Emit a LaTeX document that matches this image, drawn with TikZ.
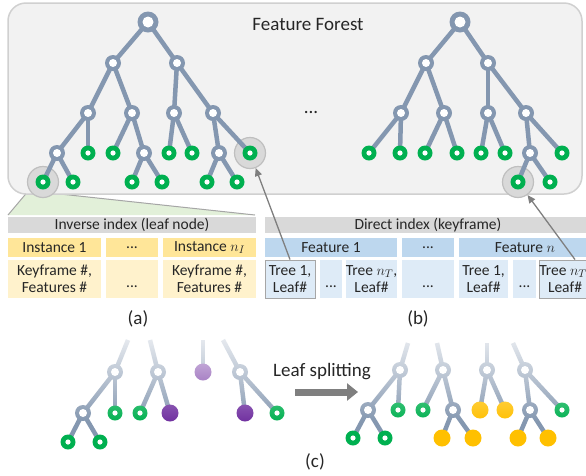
\documentclass[tikz,border=0pt]{standalone}
\usepackage{fontspec}
\setmainfont{Carlito}
\usetikzlibrary{arrows.meta,fadings}
\definecolor{tc}{HTML}{8497B0}
\definecolor{lgreen}{HTML}{00B050}
\definecolor{lyellow}{HTML}{FFC000}
\definecolor{lpurple}{HTML}{7030A0}
\definecolor{boxfill}{HTML}{F2F2F2}
\definecolor{boxdraw}{HTML}{D0D0D0}
\definecolor{hlfill}{HTML}{D9D9D9}
\definecolor{hldraw}{HTML}{BFBFBF}
\definecolor{trifill}{HTML}{E2F0D9}
\definecolor{trisides}{HTML}{A6A6A6}
\definecolor{hdrgray}{HTML}{D9D9D9}
\definecolor{ydark}{HTML}{FFE699}
\definecolor{ylight}{HTML}{FFF2CC}
\definecolor{bdark}{HTML}{BDD7EE}
\definecolor{blight}{HTML}{DEEBF7}
\definecolor{txt}{HTML}{262626}
\definecolor{arrgray}{HTML}{7F7F7F}
\pgfdeclarelayer{back}
\pgfdeclarelayer{edges}
\pgfsetlayers{back,edges,main}
\tikzfading[name=fadedown, top color=transparent!0, bottom color=transparent!100]
\newcommand\tblfont{\fontsize{15.5}{17}\selectfont}
\newcommand\bigfont{\fontsize{19}{21}\selectfont}
\tikzset{
 inode/.style={circle, fill=tc, minimum size=16pt, inner sep=0pt,
   path picture={\fill[white] (path picture bounding box.center) circle (4pt);}},
 rootnode/.style={circle, fill=tc, minimum size=21pt, inner sep=0pt,
   path picture={\fill[white] (path picture bounding box.center) circle (5.5pt);}},
 gleaf/.style={circle, fill=lgreen, minimum size=15pt, inner sep=0pt,
   path picture={\fill[white] (path picture bounding box.center) circle (2.6pt);}},
 yleaf/.style={circle, fill=lyellow, minimum size=17pt, inner sep=0pt},
 pleaf/.style={circle, fill=lpurple, minimum size=17pt, inner sep=0pt},
 tedge/.style={draw=tc, line width=4.5pt},
 hlc/.style={circle, fill=hlfill, draw=hldraw, line width=1.2pt, minimum size=31pt, inner sep=0pt},
 cell/.style={rectangle, inner sep=0pt, align=center, text=txt, font=\tblfont},
 hdr/.style={cell, fill=hdrgray, minimum height=16pt},
 ycell/.style={cell, fill=ydark, minimum height=19pt},
 ylcell/.style={cell, fill=ylight, minimum height=38pt},
 bcell/.style={cell, fill=bdark, minimum height=19pt},
 blcell/.style={cell, fill=blight, minimum height=38pt},
 selcell/.style={draw=trisides, line width=0.9pt},
 arr/.style={draw=arrgray, line width=1.3pt, -{Triangle[length=8pt,width=7pt]}},
 bigarr/.style={draw=arrgray, line width=7pt, -{Triangle[length=11pt,width=17pt]}},
 lbl/.style={text=txt, font=\bigfont, inner sep=0pt},
}
\begin{document}
\begin{tikzpicture}[x=1pt,y=-1pt]
\useasboundingbox (0,0) rectangle (586,475);

% ---------- background: triangle, box, highlight circles
\begin{pgfonlayer}{back}
\node[hlc] (hl1) at (43,182) {};
\fill[trifill] (hl1.210) -- (hl1.-45) -- (255,215) -- (8,215) -- cycle;
\draw[trisides, line width=1pt] (hl1.210) -- (8,215);
\draw[trisides, line width=1pt] (hl1.-45) -- (255,215);
\draw[fill=boxfill, draw=boxdraw, line width=1.5pt, rounded corners=18pt] (8,3) rectangle (582,194);
\node[hlc] at (43,182) {};
\node[hlc] (hl2) at (250,153) {};
\node[hlc] (hl3) at (518,182) {};
\end{pgfonlayer}

\node[lbl] (title) at (308,24) {Feature Forest};
\node[lbl] (fdots) at (311,112) {...};

% ---------- left tree
\node[rootnode] (L) at (148,22) {};
\node[inode] (La) at (113,63) {};
\node[inode] (Lb) at (177,63) {};
\node[inode] (Laa) at (88,113) {};
\node[inode] (Lab) at (132,113) {};
\node[inode] (Lba) at (174,113) {};
\node[inode] (Lbb) at (213,113) {};
\node[inode] (Laaa) at (57,153) {};
\node[gleaf] (Laab) at (88,153) {};
\node[gleaf] (Laba) at (113,153) {};
\node[inode] (Labb) at (144,153) {};
\node[gleaf] (Lbaa) at (169,153) {};
\node[gleaf] (Lbab) at (192,153) {};
\node[inode] (Lbba) at (219,153) {};
\node[gleaf] (Lbbb) at (250,153) {};
\node[gleaf] (Laaaa) at (43,182) {};
\node[gleaf] (Laaab) at (73,182) {};
\node[gleaf] (Labba) at (132,182) {};
\node[gleaf] (Labbb) at (162,182) {};
\node[gleaf] (Lbbaa) at (207,182) {};
\node[gleaf] (Lbbab) at (237,182) {};

% ---------- right tree
\node[rootnode] (R) at (460,22) {};
\node[inode] (Ra) at (426,63) {};
\node[inode] (Rb) at (488,63) {};
\node[inode] (Raa) at (401,113) {};
\node[inode] (Rab) at (444,113) {};
\node[inode] (Rba) at (488,113) {};
\node[inode] (Rbb) at (526,113) {};
\node[gleaf] (Raaa) at (369,153) {};
\node[gleaf] (Raab) at (400,153) {};
\node[gleaf] (Raba) at (425,153) {};
\node[gleaf] (Rabb) at (457,153) {};
\node[gleaf] (Rbaa) at (481,153) {};
\node[gleaf] (Rbab) at (505,153) {};
\node[inode] (Rbba) at (530,153) {};
\node[gleaf] (Rbbb) at (562,153) {};
\node[gleaf] (Rbbaa) at (518,182) {};
\node[gleaf] (Rbbab) at (550,182) {};

% ---------- (c) trees
\coordinate (tA) at (128,340);
\coordinate (tB) at (150,340);
\coordinate (tP) at (203,340);
\coordinate (tC) at (223,340);
\coordinate (tD) at (408,343);
\coordinate (tE) at (437,343);
\coordinate (tF) at (487,343);
\coordinate (tG) at (513,343);
\node[inode] (cA) at (115,372) {};
\node[inode] (cA1) at (83,413) {};
\node[gleaf] (cA2) at (115,413) {};
\node[gleaf] (cA11) at (68,442) {};
\node[gleaf] (cA12) at (100,442) {};
\node[inode] (cB) at (158,372) {};
\node[gleaf] (cB1) at (140,413) {};
\node[pleaf] (cB2) at (170,413) {};
\node[pleaf] (cP) at (203,372) {};
\node[inode] (cC) at (240,372) {};
\node[pleaf] (cC1) at (245,413) {};
\node[gleaf] (cC2) at (277,413) {};
\node[inode] (cD) at (400,370) {};
\node[inode] (cD1) at (368,410) {};
\node[gleaf] (cD2) at (398,410) {};
\node[gleaf] (cD11) at (353,438) {};
\node[gleaf] (cD12) at (385,438) {};
\node[inode] (cE) at (443,370) {};
\node[gleaf] (cE1) at (423,410) {};
\node[inode] (cE2) at (453,410) {};
\node[yleaf] (cE21) at (442,438) {};
\node[yleaf] (cE22) at (473,438) {};
\node[inode] (cF) at (487,370) {};
\node[yleaf] (cF1) at (480,410) {};
\node[yleaf] (cF2) at (505,410) {};
\node[inode] (cG) at (525,370) {};
\node[inode] (cG1) at (530,410) {};
\node[gleaf] (cG2) at (562,410) {};
\node[yleaf] (cG11) at (518,438) {};
\node[yleaf] (cG12) at (548,438) {};

% ---------- edges
\begin{pgfonlayer}{edges}
\foreach \a/\b in {L/La, L/Lb, La/Laa, La/Lab, Lb/Lba, Lb/Lbb,
  Laa/Laaa, Laa/Laab, Lab/Laba, Lab/Labb, Lba/Lbaa, Lba/Lbab, Lbb/Lbba, Lbb/Lbbb,
  Laaa/Laaaa, Laaa/Laaab, Labb/Labba, Labb/Labbb, Lbba/Lbbaa, Lbba/Lbbab,
  R/Ra, R/Rb, Ra/Raa, Ra/Rab, Rb/Rba, Rb/Rbb,
  Raa/Raaa, Raa/Raab, Rab/Raba, Rab/Rabb, Rba/Rbaa, Rba/Rbab, Rbb/Rbba, Rbb/Rbbb,
  Rbba/Rbbaa, Rbba/Rbbab,
  tA/cA, cA/cA1, cA/cA2, cA1/cA11, cA1/cA12,
  tB/cB, cB/cB1, cB/cB2,
  tP/cP,
  tC/cC, cC/cC1, cC/cC2,
  tD/cD, cD/cD1, cD/cD2, cD1/cD11, cD1/cD12,
  tE/cE, cE/cE1, cE/cE2, cE2/cE21, cE2/cE22,
  tF/cF, cF/cF1, cF/cF2,
  tG/cG, cG/cG1, cG/cG2, cG1/cG11, cG1/cG12}
  \draw[tedge] (\a.center) -- (\b.center);
\end{pgfonlayer}

% fade of the tops of the (c) trees
\fill[white, path fading=fadedown] (40,318) rectangle (590,422);

% ---------- inverse index table
\node[hdr, minimum width=248pt] (ih) at (132,225) {Inverse index (leaf node)};
\node[ycell, minimum width=93pt] (i11) at (54.5,247.5) {Instance 1};
\node[ycell, minimum width=52pt] (i12) at (132,247.5) {...};
\node[ycell, minimum width=93pt] (i13) at (209.5,247.5) {Instance $n_I$};
\node[ylcell, minimum width=93pt] (i21) at (54.5,279) {Keyframe \#,\\Features \#};
\node[ylcell, minimum width=52pt] (i22) at (132,279) {\mbox{}\\...};
\node[ylcell, minimum width=93pt] (i23) at (209.5,279) {Keyframe \#,\\Features \#};

% ---------- direct index table
\node[hdr, minimum width=326pt] (dh) at (428,225) {Direct index (keyframe)};
\node[bcell, minimum width=132pt] (d11) at (331,247.5) {Feature 1};
\node[bcell, minimum width=52pt] (d12) at (428,247.5) {...};
\node[bcell, minimum width=132pt] (d13) at (525,247.5) {Feature $n$};
\node[blcell, selcell, minimum width=50pt] (d21) at (290,279) {Tree 1,\\Leaf\#};
\node[blcell, minimum width=22pt] (d22) at (331,279) {\mbox{}\\...};
\node[blcell, minimum width=51pt] (d23) at (371.5,279) {Tree $n_T$,\\Leaf\#};
\node[blcell, minimum width=52pt] (d24) at (428,279) {\mbox{}\\...};
\node[blcell, minimum width=49pt] (d25) at (483.5,279) {Tree 1,\\Leaf\#};
\node[blcell, minimum width=23pt] (d26) at (524.5,279) {\mbox{}\\...};
\node[blcell, selcell, minimum width=50pt] (d27) at (565,279) {Tree $n_T$,\\Leaf\#};

% ---------- arrows to highlighted leaves
\draw[arr] (d21.north) -- (hl2);
\draw[arr] ([xshift=10pt]d27.north) -- (hl3);

% ---------- labels
\node[lbl] (la) at (138,319) {(a)};
\node[lbl] (lb) at (418,319) {(b)};
\node[lbl] (lc) at (315,462) {(c)};

% ---------- leaf splitting arrow
\node[lbl] (ls) at (322,372) {Leaf splitting};
\coordinate (aS) at (295,392);
\coordinate (aE) at (358,392);
\draw[bigarr] (aS) -- (aE);
\end{tikzpicture}
\end{document}
